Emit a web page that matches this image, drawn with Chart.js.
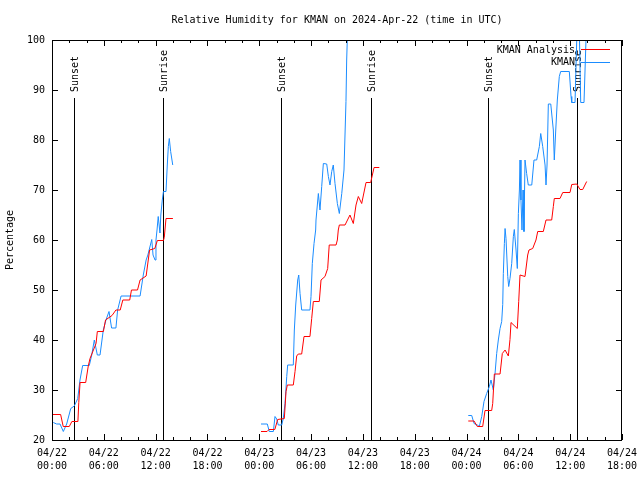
<!DOCTYPE html>
<html>
<head>
<meta charset="utf-8">
<script src="https://cdn.jsdelivr.net/npm/chart.js@4/dist/chart.umd.min.js"></script>
<style>
html,body{margin:0;padding:0;background:#fff;}
#wrap{width:640px;height:480px;position:relative;}
</style>
</head>
<body>
<div id="wrap"><canvas id="c" width="640" height="480"></canvas></div>
<script>
// ---- data (hours since 04/22 00:00 UTC) ----
const titleText = 'Relative Humidity for KMAN on 2024-Apr-22 (time in UTC)';
const yAxisTitle = 'Percentage';
const xTickHours = [0, 6, 12, 18, 24, 30, 36, 42, 48, 54, 60, 66];
const xTickLabels = [
  ['04/22','00:00'], ['04/22','06:00'], ['04/22','12:00'], ['04/22','18:00'],
  ['04/23','00:00'], ['04/23','06:00'], ['04/23','12:00'], ['04/23','18:00'],
  ['04/24','00:00'], ['04/24','06:00'], ['04/24','12:00'], ['04/24','18:00']
];
const sunHours  = [2.55, 12.91, 26.52, 36.88, 50.54, 60.79];
const sunLabels = ['Sunset', 'Sunrise', 'Sunset', 'Sunrise', 'Sunset', 'Sunrise'];

const analysisHours = [
  0.1,1.0,1.3,2.0,2.3,3.0,3.1,3.25,3.9,4.2,4.4,5.1,5.25,5.95,6.2,6.95,7.4,7.9,8.2,9.0,9.2,9.9,10.2,10.9,11.3,11.9,12.2,12.9,13.0,13.2,14.0,
  19,
  24.2,24.9,25.13,25.8,26.13,26.9,27.1,27.25,27.94,28.14,28.33,28.52,28.91,29.18,29.87,30.07,30.26,30.95,31.15,31.61,31.92,32.1,32.89,33.04,33.15,33.27,33.93,34.5,34.89,35.2,35.47,35.86,36.36,36.9,37.29,37.9,
  43,
  48.2,48.87,49.25,49.87,50.14,50.91,51.03,51.22,51.88,52.14,52.46,52.84,53.03,53.15,53.88,54.04,54.19,54.77,55.08,55.23,55.66,56.04,56.24,56.89,57.2,57.86,58.05,58.16,58.82,59.14,59.98,60.18,60.76,61.14,61.45,61.91
];
const analysisRH = [
  25.1,25.1,22.7,22.7,23.7,23.7,27.5,31.5,31.5,34.8,36.3,39.3,41.7,41.7,44,44.9,46,46,48,48,50,50,52,52.8,58,58.3,59.9,59.9,60.5,64.3,64.3,
  null,
  21.7,21.7,22.1,22.1,24.1,24.3,29.7,31,31,33.7,36.8,37.2,37.2,40.7,40.7,44.3,47.7,47.7,52,52.7,54.3,59,59,60,62,63,63,65,63.3,67,68.7,67.3,71.5,71.5,74.5,74.5,
  null,
  23.8,23.8,22.7,22.7,25.9,25.9,27.3,33.2,33.2,37.3,38,36.8,40.1,43.5,42.3,47.7,53,52.7,57,58,58.3,60,61.7,61.7,64,64,66.7,68.3,68.3,69.5,69.5,71.1,71.2,70.1,70.1,71.7
];

const obsHours = [
  0.15,0.54,0.93,1.31,1.7,2.17,2.58,2.98,3.24,3.55,4.32,4.6,4.9,5.25,5.56,5.94,6.25,6.6,6.9,7.4,7.6,8.0,10.2,10.57,10.9,11.1,11.55,11.7,11.93,12.04,12.16,12.3,12.5,12.6,12.77,12.9,13.2,13.35,13.47,13.58,13.74,13.98,
  19,
  24.2,24.93,25.16,25.63,25.82,26.02,26.2,26.6,26.78,26.98,27.18,27.29,27.94,28.06,28.22,28.45,28.57,28.72,28.91,29.87,29.99,30.14,30.34,30.53,30.57,30.84,31.03,31.23,31.42,31.81,32.0,32.19,32.39,32.57,32.77,33.04,33.27,33.55,33.81,34.04,34.12,34.19,34.27,
  43,
  48.2,48.6,48.87,49.25,49.48,49.76,50.02,50.33,50.64,50.83,51.1,51.3,51.49,51.68,51.88,52.07,52.19,52.26,52.38,52.46,52.57,52.77,52.88,53.03,53.23,53.42,53.53,53.73,53.88,54.0,54.12,54.19,54.3,54.42,54.54,54.65,54.77,54.96,55.15,55.55,55.81,56.12,56.43,56.59,56.82,57.09,57.2,57.32,57.47,57.75,58.05,58.16,58.33,58.51,58.74,58.9,59.9,60.1,60.18,60.56,60.76,60.9,61.08,61.22,61.6,61.83,61.95
];
const obsRH = [
  23.5,23.2,23.2,21.7,23.2,26.3,26.8,28.3,32,34.9,34.9,37,40,37,37,42,44,45.7,42.4,42.4,46,48.8,48.8,53,56,57,60.1,57,56,60,62,64.7,61.4,65,68,69.7,69.7,75,78.7,80.3,77.7,75,
  null,
  23.2,23.2,21.7,21.7,24.7,24.2,23,23,24.3,27.3,32.7,35,35,42,47,52,53,49.3,46,46,48.7,55.3,59.3,62,64,69.3,66,70.7,75.3,75.2,72.7,71,73.7,75,71.3,67.3,65.3,69.3,74,87.7,96,100,104,
  null,
  24.9,24.9,23.3,23,22.7,24.7,27.7,29.3,30.7,32,30,33.3,37.3,40,42.3,43.7,47.1,53.3,59.3,62.3,60.3,52.7,50.7,52.3,55.3,60.7,62.1,58,54.3,65.3,70,76,68,62,70,61.7,76,73.3,71,71,76,76,78.7,81.3,78.7,75,71,75,87.2,87.2,82,76,82,88,92.7,93.7,93.7,88.7,87.5,87.5,100,103,100,87.5,87.5,100,104
];

const RED = '#ff0000';
const BLUE = '#1a8cff';
const FONT = "'DejaVu Sans Mono', 'Liberation Mono', monospace";

Chart.defaults.font.family = FONT;
Chart.defaults.font.size = 10;
Chart.defaults.color = '#000';

const framePlugin = {
  id: 'gnuFrame',
  beforeDatasetsDraw(chart) {
    const {ctx, chartArea: a, scales: {x}} = chart;
    ctx.save();
    ctx.strokeStyle = '#000';
    ctx.lineWidth = 1;
    ctx.fillStyle = '#000';
    ctx.font = '10px ' + FONT;
    // sunrise / sunset markers
    sunHours.forEach((h, i) => {
      const px = Math.round(x.getPixelForValue(h)) + 0.5;
      ctx.beginPath();
      ctx.moveTo(px, 98);
      ctx.lineTo(px, a.bottom);
      ctx.stroke();
      ctx.save();
      ctx.translate(px + 1, 92);
      ctx.rotate(-Math.PI / 2);
      ctx.textAlign = 'left';
      ctx.textBaseline = 'middle';
      ctx.fillText(sunLabels[i], 0, 0);
      ctx.restore();
    });
    ctx.restore();
  },
  afterDatasetsDraw(chart) {
    const {ctx, chartArea: a, scales: {x, y}} = chart;
    ctx.save();
    ctx.strokeStyle = '#000';
    ctx.lineWidth = 1;
    ctx.beginPath();
    ctx.rect(a.left + 0.5, a.top + 0.5, a.right - a.left - 1, a.bottom - a.top);
    for (let h = 0; h <= 66; h += 2) {
      const px = Math.round(x.getPixelForValue(h)) + 0.5;
      const len = (h % 6 === 0) ? 6 : 3;
      ctx.moveTo(px, a.bottom); ctx.lineTo(px, a.bottom - len);
      ctx.moveTo(px, a.top); ctx.lineTo(px, a.top + len);
    }
    for (let v = 20; v <= 100; v += 10) {
      const py = Math.round(y.getPixelForValue(v)) + 0.5;
      ctx.moveTo(a.left, py); ctx.lineTo(a.left + 6, py);
      ctx.moveTo(a.right, py); ctx.lineTo(a.right - 6, py);
    }
    ctx.stroke();
    // key
    ctx.font = '10px ' + FONT;
    ctx.fillStyle = '#000';
    ctx.textAlign = 'right';
    ctx.textBaseline = 'middle';
    chart.data.datasets.forEach((ds, i) => {
      const ky = 50 + i * 12.5;
      ctx.fillText(ds.label, 575, ky);
      ctx.strokeStyle = ds.borderColor;
      ctx.beginPath();
      ctx.moveTo(581, Math.round(ky) - 0.5);
      ctx.lineTo(610, Math.round(ky) - 0.5);
      ctx.stroke();
    });
    ctx.restore();
  }
};

const toXY = (hs, vs) => hs.map((h, i) => ({x: h, y: vs[i]}));

new Chart(document.getElementById('c'), {
  type: 'line',
  data: {
    datasets: [
      {label: 'KMAN Analysis', data: toXY(analysisHours, analysisRH), borderColor: RED, borderWidth: 1, pointRadius: 0, tension: 0, spanGaps: false, fill: false},
      {label: 'KMAN', data: toXY(obsHours, obsRH), borderColor: BLUE, borderWidth: 1, pointRadius: 0, tension: 0, spanGaps: false, fill: false}
    ]
  },
  options: {
    responsive: false,
    animation: false,
    devicePixelRatio: 1,
    layout: {padding: {left: 0, right: 18, top: 0, bottom: 0}},
    plugins: {
      legend: {display: false},
      tooltip: {enabled: false},
      title: {
        display: true, fullSize: false, text: titleText, color: '#000',
        font: {family: FONT, size: 10, weight: 'normal', lineHeight: 1.2},
        padding: {top: 14, bottom: 14}
      }
    },
    scales: {
      x: {
        type: 'linear', min: 0, max: 66,
        afterBuildTicks: (s) => { s.ticks = xTickHours.map(v => ({value: v})); },
        afterFit: (s) => { s.height = 40; s.paddingLeft = 0; s.paddingRight = 0; },
        grid: {display: false, drawTicks: false},
        border: {display: false},
        ticks: {
          autoSkip: false, maxRotation: 0, padding: 7,
          font: {family: FONT, size: 10, lineHeight: 1.3},
          callback: (v) => xTickLabels[xTickHours.indexOf(v)]
        }
      },
      y: {
        min: 20, max: 100,
        afterFit: (s) => { s.width = 52; s.paddingTop = 0; s.paddingBottom = 0; },
        grid: {display: false, drawTicks: false},
        border: {display: false},
        ticks: {stepSize: 10, padding: 7, font: {family: FONT, size: 10}},
        title: {display: true, text: yAxisTitle, color: '#000', font: {family: FONT, size: 10}, padding: {top: 4, bottom: 0}}
      }
    }
  },
  plugins: [framePlugin]
});
</script>
</body>
</html>
